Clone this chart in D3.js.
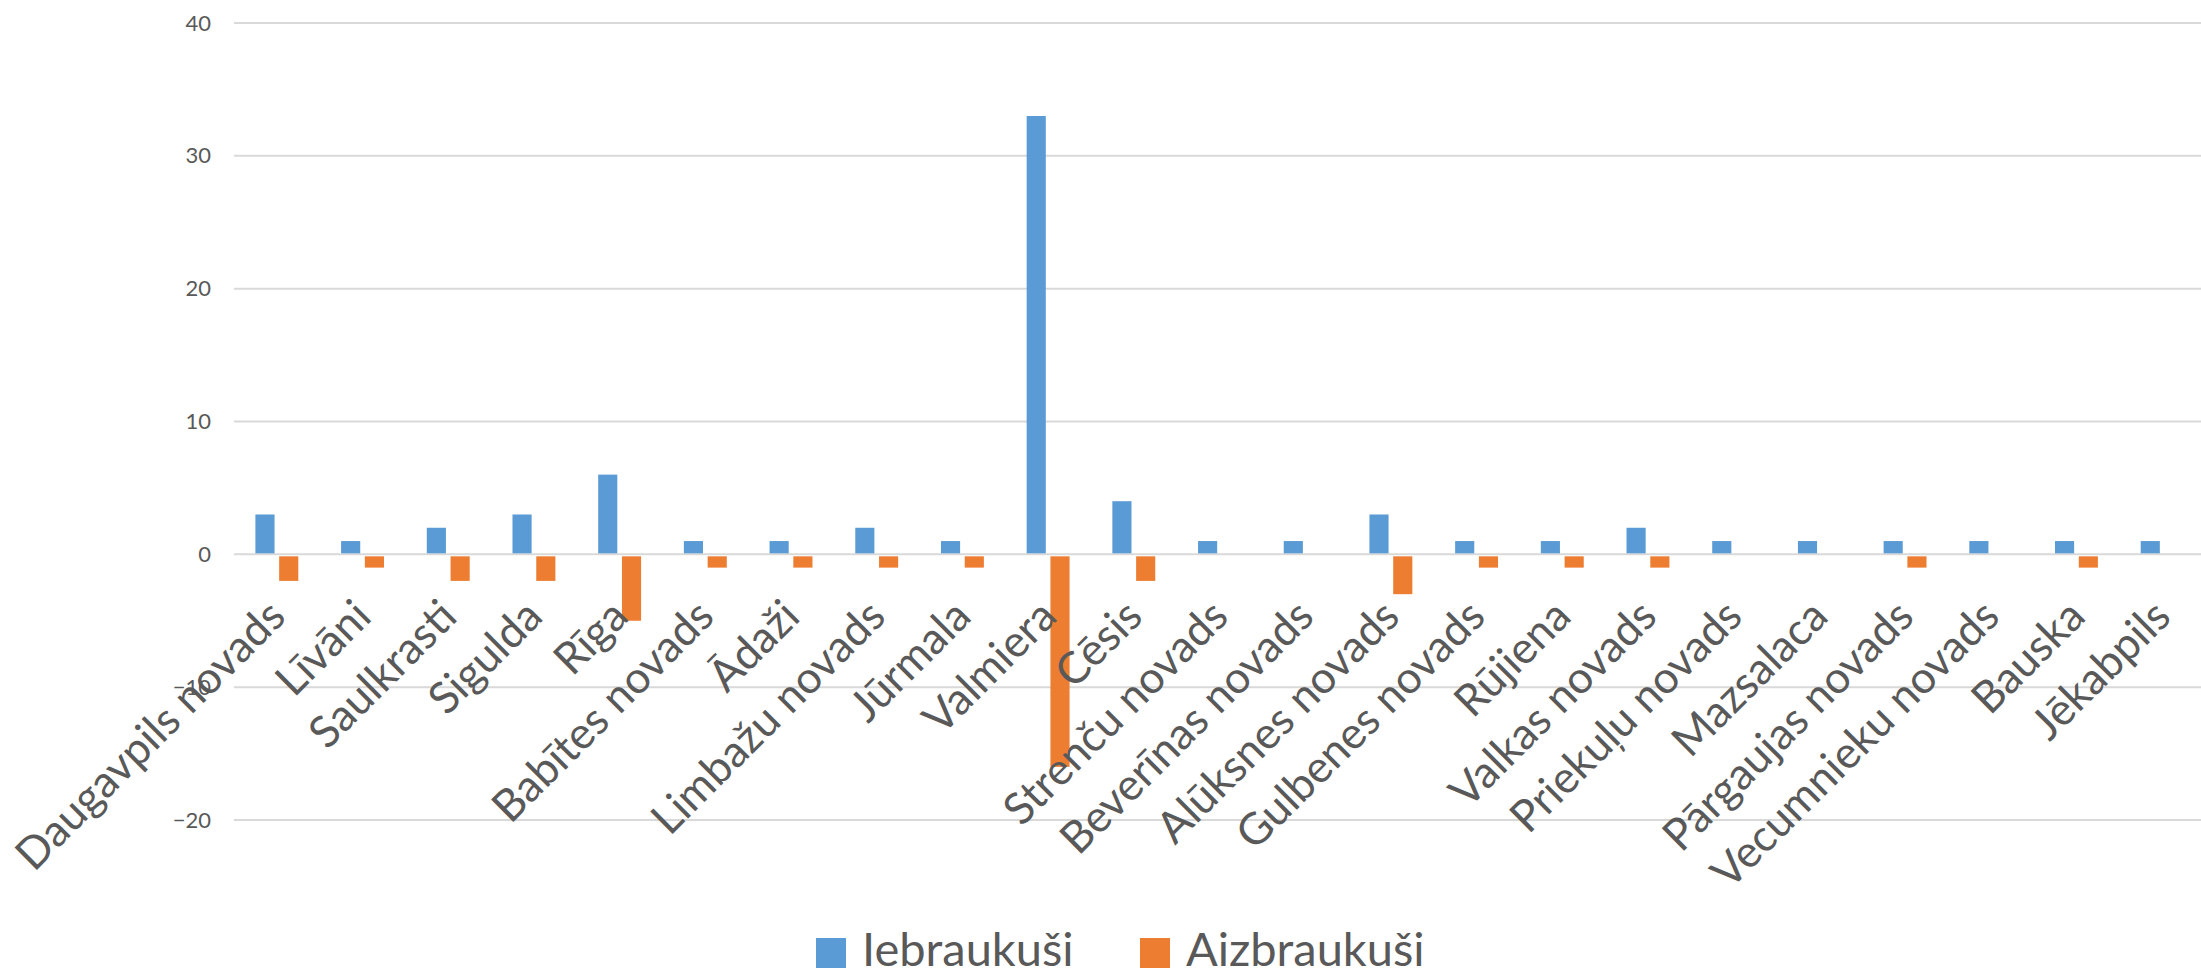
<!DOCTYPE html>
<html>
<head>
<meta charset="utf-8">
<script src="https://cdn.jsdelivr.net/npm/d3@7"></script>
<style>
  html, body { margin: 0; padding: 0; background: #ffffff; }
  svg { display: block; }
  text { font-family: Lato, "Open Sans", sans-serif; fill: #595959; }
</style>
</head>
<body>
<svg id="chart" width="2201" height="977"></svg>
<script>
const categories = ["Daugavpils novads", "Līvāni", "Saulkrasti", "Sigulda", "Rīga", "Babītes novads", "Ādaži", "Limbažu novads", "Jūrmala", "Valmiera", "Cēsis", "Strenču novads", "Beverīnas novads", "Alūksnes novads", "Gulbenes novads", "Rūjiena", "Valkas novads", "Priekuļu novads", "Mazsalaca", "Pārgaujas novads", "Vecumnieku novads", "Bauska", "Jēkabpils"];
const iebraukusi = [3, 1, 2, 3, 6, 1, 1, 2, 1, 33, 4, 1, 1, 3, 1, 1, 2, 1, 1, 1, 1, 1, 1];
const aizbraukusi = [-2, -1, -2, -2, -5, -1, -1, -1, -1, -16, -2, 0, 0, -3, -1, -1, -1, 0, 0, -1, 0, -1, 0];
const seriesNames = ["Iebraukuši", "Aizbraukuši"];
const seriesColors = ["#5B9BD5", "#ED7D31"];
const yTicks = [-20, -10, 0, 10, 20, 30, 40];

const svg = d3.select("#chart");
const plotLeft = 234, plotRight = 2205, gridRight = 2201;

const x0 = d3.scaleBand().domain(categories).range([plotLeft, plotRight]).padding(0);
const x1 = d3.scaleBand().domain(seriesNames).range([0, x0.bandwidth()])
  .paddingInner(0.195).paddingOuter(0.9);
const y = d3.scaleLinear().domain([-20, 40]).range([820, 23]);

// gridlines
svg.append("g")
  .selectAll("line.grid").data(yTicks).enter().append("line")
  .attr("x1", plotLeft).attr("x2", gridRight)
  .attr("y1", d => y(d)).attr("y2", d => y(d))
  .attr("stroke", "#D9D9D9").attr("stroke-width", 2);

const yAxis = d3.axisLeft(y).tickValues(yTicks).tickSize(0).tickPadding(0);
const ya = svg.append("g").attr("transform", `translate(${211},0)`).call(yAxis);
ya.select(".domain").remove();
ya.selectAll("text").style("font-size", "22px").attr("fill", "#595959")
  .style("font-family", "Lato, sans-serif");

// bars
const data = categories.map((c, i) => ({ c, vals: [iebraukusi[i], aizbraukusi[i]] }));
const groups = svg.append("g").selectAll("g").data(data).enter().append("g")
  .attr("transform", d => `translate(${x0(d.c)},0)`);
groups.selectAll("rect").data(d => d.vals.map((v, k) => ({ v, k }))).enter()
  .append("rect")
  .filter(d => d.v !== 0)
  .attr("x", d => x1(seriesNames[d.k]))
  .attr("width", x1.bandwidth())
  .attr("y", d => d.v >= 0 ? y(d.v) : y(0) + 2)
  .attr("height", d => d.v >= 0 ? y(0) - 1 - y(d.v) : y(d.v) - y(0) - 2)
  .attr("fill", d => seriesColors[d.k]);

// category labels
const xAxis = d3.axisBottom(x0).tickSize(0).tickPadding(0);
const xa = svg.append("g").attr("transform", `translate(0,${608})`).call(xAxis);
xa.select(".domain").remove();
xa.selectAll(".tick text")
  .attr("y", 0).attr("x", 0).attr("dy", "0.35em")
  .attr("text-anchor", "end")
  .attr("transform", "rotate(-45)")
  .style("font-size", "44px").attr("fill", "#595959")
  .style("font-family", "Lato, sans-serif");

// legend
const legendX = [816, 1140];
const legend = svg.append("g");
seriesNames.forEach((s, i) => {
  legend.append("rect").attr("x", legendX[i]).attr("y", 938).attr("width", 30).attr("height", 30)
    .attr("fill", seriesColors[i]);
  legend.append("text").attr("x", legendX[i] + 46).attr("y", 966)
    .style("font-size", "47px").text(s);
});
</script>
</body>
</html>
